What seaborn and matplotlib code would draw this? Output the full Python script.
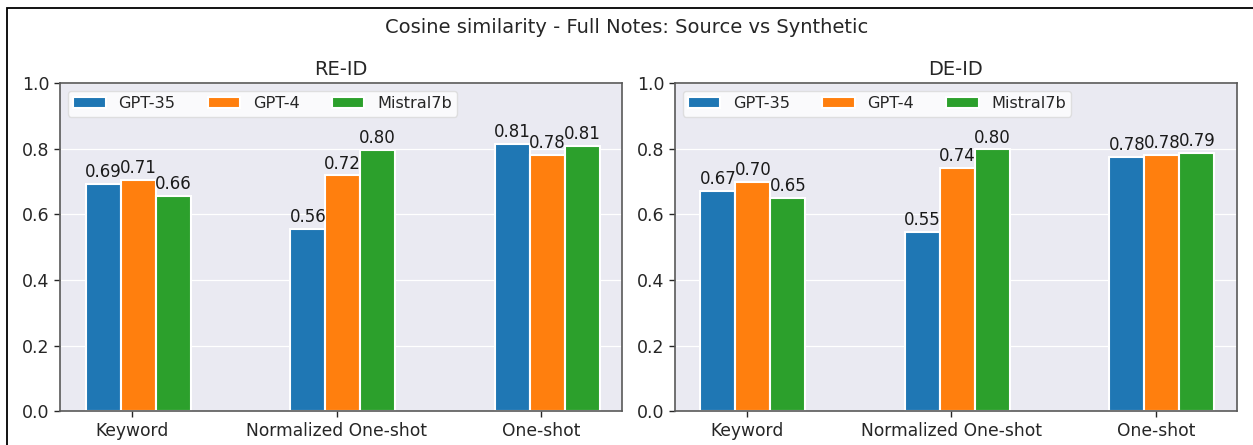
import numpy as np
import pandas as pd
import matplotlib
matplotlib.use("Agg")
import matplotlib.pyplot as plt
from matplotlib.patches import Rectangle
import seaborn as sns

# ---- data ----
categories = ["Keyword", "Normalized One-shot", "One-shot"]
models = ["GPT-35", "GPT-4", "Mistral7b"]
panels = ["RE-ID", "DE-ID"]

reid_gpt35 = [0.692, 0.557, 0.815]
reid_gpt4 = [0.706, 0.719, 0.782]
reid_mistral = [0.657, 0.797, 0.808]

deid_gpt35 = [0.672, 0.546, 0.776]
deid_gpt4 = [0.700, 0.743, 0.781]
deid_mistral = [0.651, 0.798, 0.787]

colors = ["#1f77b4", "#ff7f0e", "#2ca02c"]

panel_values = {
    "RE-ID": [reid_gpt35, reid_gpt4, reid_mistral],
    "DE-ID": [deid_gpt35, deid_gpt4, deid_mistral],
}

sns.set_theme(style="darkgrid")
plt.rcParams.update({
    "axes.facecolor": "#eaeaf2",
    "axes.edgecolor": "0.35",
    "axes.linewidth": 1.2,
    "xtick.bottom": True,
    "ytick.left": True,
    "xtick.color": "0.15",
    "ytick.color": "0.15",
    "xtick.major.size": 4,
    "ytick.major.size": 4,
    "xtick.major.width": 1.0,
    "ytick.major.width": 1.0,
    "grid.color": "white",
    "grid.linewidth": 0.9,
    "patch.edgecolor": "white",
})
plt.rcParams["font.family"] = ["DejaVu Sans"]

fig, axes = plt.subplots(1, 2, figsize=(12.53, 4.45), dpi=100)
fig.subplots_adjust(left=0.048, right=0.987, bottom=0.076, top=0.813, wspace=0.094)

for ax, panel in zip(axes, panels):
    vals = panel_values[panel]
    rows = []
    for m, series in zip(models, vals):
        for c, v in zip(categories, series):
            rows.append({"category": c, "model": m, "value": v})
    df = pd.DataFrame(rows)
    sns.barplot(data=df, x="category", y="value", hue="model",
                order=categories, hue_order=models, palette=colors,
                width=0.513, edgecolor="white", linewidth=1.5,
                saturation=1.0, errorbar=None, ax=ax)
    for cont in ax.containers:
        ax.bar_label(cont, fmt="%.2f", fontsize=12, padding=2, color="0.1")
    ax.set_ylim(0, 1.0)
    ticks = np.arange(0, 1.01, 0.2)
    ax.set_yticks(ticks)
    ax.set_yticklabels([f"{t:.1f}" for t in ticks], fontsize=12.5)
    ax.set_xticks(np.arange(len(categories)) - 0.03)
    ax.set_xticklabels(categories, fontsize=12.3)
    ax.set_xlim(-0.382, 2.366)
    ax.set_xlabel("")
    ax.set_ylabel("")
    ax.grid(axis="x", visible=False)
    ax.grid(axis="y", color="white", linewidth=0.9)
    for s in ax.spines.values():
        s.set_visible(True)
        s.set_color("0.35")
        s.set_linewidth(1.2)
    ax.set_title(panel, fontsize=14, pad=6)
    sns.move_legend(ax, "upper left", ncol=3, title=None, fontsize=11.6,
                    frameon=True, columnspacing=2.0, borderpad=0.32)
    leg = ax.get_legend()
    leg.get_frame().set_facecolor("white")
    leg.get_frame().set_alpha(0.8)
    leg.get_frame().set_edgecolor("0.85")

fig.suptitle("Cosine similarity - Full Notes: Source vs Synthetic",
             fontsize=14, y=0.939, va="center")

fig.patches.append(Rectangle((7 / 1253, -0.2), 1.2, 1.2 - 8 / 445,
                             transform=fig.transFigure, fill=False,
                             edgecolor="black", linewidth=1.3))

fig.savefig("out.png", dpi=100)
